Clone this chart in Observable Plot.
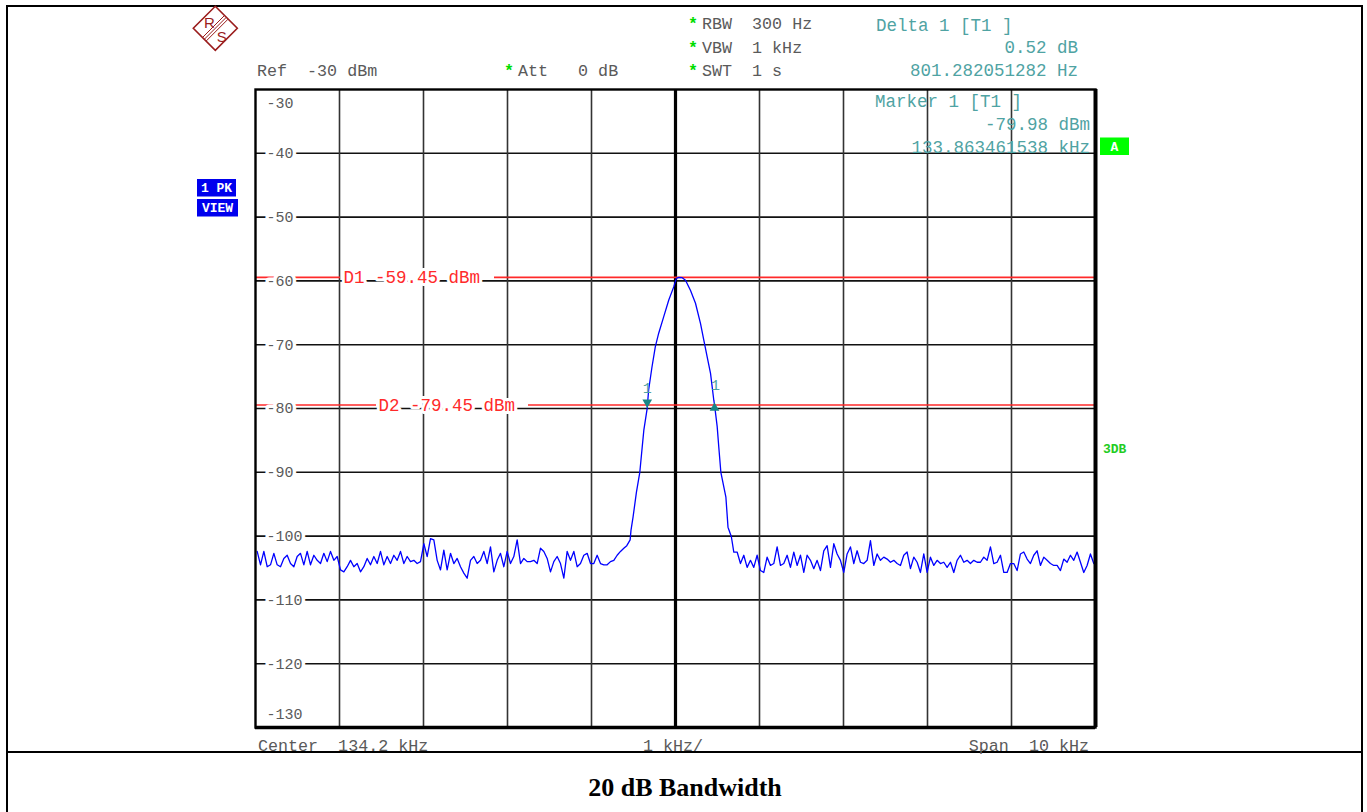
<!DOCTYPE html>
<html><head><meta charset="utf-8">
<script src="https://cdn.jsdelivr.net/npm/d3@7"></script>
<script src="https://cdn.jsdelivr.net/npm/@observablehq/plot@0.6"></script>
<style>
body{margin:0;background:#fff;}
#wrap{position:relative;width:1367px;height:812px;overflow:hidden;background:#fff;}
#wrap > svg{position:absolute;left:0;top:0;}
#wrap text{white-space:pre;}
</style></head><body><div id="wrap"></div>
<script>
// ---- data ----
const centerKHz = 134.2;
const spanKHz = 10;
const refLevel = -30;
const yGridValues = [-40, -50, -60, -70, -80, -90, -100, -110, -120];
const yLabelValues = [-30, -40, -50, -60, -70, -80, -90, -100, -110, -120, -130];
const xGridValues = [130.2, 131.2, 132.2, 133.2, 134.2, 135.2, 136.2, 137.2, 138.2];

// noise floor left of the carrier (sample spacing in kHz)
const sampleStepKHz = 0.03968;
const leftNoiseStartKHz = 129.22;
const leftNoise = [
-102.4,-104.5,-102.4,-104.8,-104.5,-102.7,-104.5,-104.8,-103.5,-103.0,
-104.3,-104.8,-103.2,-102.7,-104.5,-102.4,-104.5,-103.0,-103.8,-104.3,
-102.7,-104.0,-102.4,-103.8,-103.2,-105.3,-105.6,-104.8,-103.8,-104.8,
-104.3,-105.6,-104.8,-103.5,-104.5,-103.2,-104.3,-102.4,-104.5,-103.2,
-104.3,-103.0,-103.8,-102.4,-104.3,-103.2,-104.0,-103.8,-104.3,-104.0,
-101.2,-103.2,-100.4,-100.6,-103.8,-105.3,-102.2,-105.3,-102.7,-104.3,
-103.5,-104.8,-105.8,-106.6,-103.8,-103.2,-104.3,-103.8,-102.4,-104.3,
-101.7,-105.6,-103.8,-102.7,-104.8,-102.4,-104.3,-103.2,-100.6,-104.3,
-103.5,-104.0,-104.0,-103.8,-104.3,-101.9,-102.4,-103.5,-105.6,-104.0,
-103.2,-104.3,-106.6,-102.4,-103.8,-102.4,-104.8,-104.3,-103.0,-102.7,
-104.3,-104.3,-103.0,-104.3,-104.5,-104.5,-104.0,-103.8,-103.0,-102.4,
-101.9
];
// carrier region
const peakFreqs = [133.62,133.66,133.67,133.695,133.735,133.775,133.804,133.823,133.863,133.88,
  133.92,133.96,134.00,134.06,134.12,134.18,134.21,134.24,134.28,134.319,
  134.379,134.438,134.498,134.537,134.577,134.617,134.656,134.665,134.696,134.715,
  134.74,134.8,134.825,134.865];
const peakLevels = [-101.5,-100.6,-99.1,-97.0,-93.1,-90.0,-86.0,-83.4,-79.98,-77.1,
  -73.5,-70.3,-68.2,-65.6,-63.0,-60.9,-59.6,-59.45,-59.5,-59.9,
  -61.5,-63.5,-66.7,-69.3,-71.9,-74.5,-78.7,-79.46,-82.8,-86.0,
  -90.0,-93.9,-98.6,-100.1];
// noise floor right of the carrier
const rightNoiseStartKHz = 134.894;
const rightNoise = [
-102.5,-102.5,-104.3,-103.0,-104.9,-103.8,-104.9,-103.0,-105.4,-105.7,
-103.3,-104.6,-104.3,-101.7,-104.6,-104.3,-103.0,-104.9,-102.5,-104.6,
-103.0,-105.7,-103.0,-103.8,-105.1,-103.8,-105.4,-102.3,-101.5,-104.9,
-101.2,-102.8,-103.8,-105.7,-102.8,-101.7,-104.3,-102.3,-104.1,-104.3,
-103.8,-100.7,-104.6,-102.8,-103.8,-103.3,-103.6,-104.1,-103.8,-104.3,
-104.6,-103.0,-102.5,-105.1,-103.3,-104.1,-105.7,-102.8,-105.7,-103.3,
-104.6,-103.8,-104.3,-104.1,-104.9,-104.1,-105.7,-103.8,-103.0,-104.1,
-103.8,-104.3,-103.8,-104.1,-104.1,-103.3,-103.8,-101.7,-104.3,-104.1,
-103.0,-105.7,-105.7,-104.3,-104.3,-105.4,-102.8,-102.5,-103.6,-104.3,
-103.0,-102.3,-104.6,-103.3,-103.8,-104.3,-104.6,-104.6,-105.4,-103.6,
-104.1,-103.0,-103.8,-102.5,-104.1,-105.7,-104.6,-102.8,-104.3
];
const displayLines = [{name: "D1", level: -59.45}, {name: "D2", level: -79.45}];
const marker1 = {freq: 133.863461538, level: -79.98};
const delta1 = {dFreqHz: 801.282051282, dLevel: 0.52};

// ---- layout ----
const W = 1367, H = 812, mL = 255, mR = 272, mT = 89, mB = 85;
const plotW = W - mL - mR;
const xMin = centerKHz - spanKHz / 2, xMax = centerKHz + spanKHz / 2;
const yMin = refLevel - 100, yMax = refLevel;
const pxToKHz = px => xMin + px * spanKHz / plotW;
// label placement (px from the left edge of the grid) and the gap each label cuts in its line
const dLabelLayout = {D1: {dx: 88, gap: [85, 239]}, D2: {dx: 123, gap: [121, 273]}};
const dSegments = [];
displayLines.forEach(d => {
  const g = dLabelLayout[d.name].gap;
  dSegments.push({level: d.level, a: xMin, b: pxToKHz(g[0])});
  dSegments.push({level: d.level, a: pxToKHz(g[1]), b: xMax});
});

// ---- build trace ----
const trace = [];
leftNoise.forEach((v, i) => trace.push({f: leftNoiseStartKHz + i * sampleStepKHz, v}));
peakFreqs.forEach((f, i) => trace.push({f, v: peakLevels[i]}));
rightNoise.forEach((v, i) => trace.push({f: rightNoiseStartKHz + i * sampleStepKHz, v}));

const fmt = v => String(v);
const grey = "#5a5a5a", teal = "#4fa3a3", red = "#ff2a2a", mkTeal = "#1a8585";
const deltaPoint = {freq: marker1.freq + delta1.dFreqHz / 1000, level: marker1.level + delta1.dLevel};
const dText = d => `${d.name} ${d.level.toFixed(2)} dBm`;

const plot = Plot.plot({
  width: W, height: H,
  marginLeft: mL, marginRight: mR, marginTop: mT, marginBottom: mB,
  x: {domain: [xMin, xMax], axis: null},
  y: {domain: [yMin, yMax], axis: null},
  style: {fontFamily: "Liberation Mono, monospace", background: "transparent", overflow: "visible"},
  marks: [
    Plot.ruleY(yGridValues, {stroke: "#111", strokeWidth: 1.6}),
    Plot.ruleX(xGridValues.filter(d => d !== centerKHz), {stroke: "#333", strokeWidth: 1.6}),
    Plot.ruleX([centerKHz], {stroke: "#000", strokeWidth: 3.2}),
    Plot.ruleY(dSegments, {y: "level", x1: "a", x2: "b", stroke: red, strokeWidth: 1.6}),
    ...displayLines.map(d => Plot.text([d], {y: "level", text: dText,
      frameAnchor: "left", dx: dLabelLayout[d.name].dx, textAnchor: "start", fill: red, fontSize: 17.5,
      stroke: "white", strokeWidth: 6, paintOrder: "stroke"})),
    Plot.text(yLabelValues.filter(d => d !== yMax && d !== yMin), {y: d => d, text: fmt,
      frameAnchor: "left", dx: 11, textAnchor: "start", fill: grey, fontSize: 15,
      stroke: "white", strokeWidth: 7, paintOrder: "stroke"}),
    Plot.text([yMax], {y: d => d, text: fmt, frameAnchor: "left", dx: 11, dy: 14, textAnchor: "start", fill: grey, fontSize: 15}),
    Plot.text([yMin], {y: d => d, text: fmt, frameAnchor: "left", dx: 11, dy: -13, textAnchor: "start", fill: grey, fontSize: 15}),
    Plot.line(trace, {x: "f", y: "v", stroke: "#0000ff", strokeWidth: 1.3}),
    Plot.dot([marker1], {x: "freq", y: "level", symbol: "triangle", rotate: 180, r: 3.6, fill: mkTeal, dy: -6}),
    Plot.dot([deltaPoint], {x: "freq", y: "level", symbol: "triangle", r: 3.6, fill: mkTeal, dy: 3}),
    Plot.text([marker1], {x: "freq", y: "level", text: () => "1", dy: -20, fill: teal, fontSize: 15}),
    Plot.text([deltaPoint], {x: "freq", y: "level", text: () => "1", dy: -20, dx: 1, fill: teal, fontSize: 15}),
    Plot.frame({stroke: "#000", strokeWidth: 2.4}),
    Plot.ruleX([xMax], {stroke: "#000", strokeWidth: 4}),
    Plot.ruleY([yMin], {stroke: "#000", strokeWidth: 3.4})
  ]
});
const wrap = document.getElementById("wrap");
wrap.appendChild(plot);

// ---- instrument annotation overlay ----
const ov = d3.select(wrap).append("svg").attr("width", W).attr("height", H)
  .style("font-family", "Liberation Mono, monospace");
// page border
ov.append("line").attr("x1", 6).attr("x2", 1363).attr("y1", 6).attr("y2", 6).attr("stroke", "#000").attr("stroke-width", 2);
ov.append("line").attr("x1", 7).attr("x2", 7).attr("y1", 5).attr("y2", 812).attr("stroke", "#000").attr("stroke-width", 2);
ov.append("line").attr("x1", 1362).attr("x2", 1362).attr("y1", 5).attr("y2", 812).attr("stroke", "#000").attr("stroke-width", 2);
ov.append("line").attr("x1", 6).attr("x2", 1363).attr("y1", 752).attr("y2", 752).attr("stroke", "#000").attr("stroke-width", 2);

const greyTexts = [
  {t: `Ref  ${refLevel} dBm`, x: 257, y: 76},
  {t: "Att   0 dB", x: 518, y: 76},
  {t: "RBW  300 Hz", x: 702, y: 29},
  {t: "VBW  1 kHz", x: 702, y: 53},
  {t: "SWT  1 s", x: 702, y: 76},
  {t: `Center  ${centerKHz} kHz`, x: 258, y: 751},
  {t: `${spanKHz / 10} kHz/`, x: 643, y: 751},
  {t: `Span  ${spanKHz} kHz`, x: 1089, y: 751, a: "end"}
];
ov.selectAll(null).data(greyTexts).join("text").attr("x", d => d.x).attr("y", d => d.y)
  .attr("xml:space", "preserve")
  .attr("text-anchor", d => d.a || "start").attr("fill", grey).attr("font-size", 16.7).text(d => d.t);
const stars = [{x: 693, y: 29}, {x: 693, y: 53}, {x: 693, y: 76}, {x: 509, y: 76}];
ov.selectAll(null).data(stars).join("text").attr("x", d => d.x).attr("y", d => d.y)
  .attr("text-anchor", "middle").attr("fill", "#00dd00").attr("font-size", 16.7).attr("font-weight", "bold").text("*");
const tealTexts = [
  {t: "Delta 1 [T1 ]", x: 876, y: 30.5},
  {t: `${delta1.dLevel.toFixed(2)} dB`, x: 1078, y: 53.3, a: "end"},
  {t: `${delta1.dFreqHz} Hz`, x: 1078, y: 76, a: "end"},
  {t: "Marker 1 [T1 ]", x: 875, y: 107},
  {t: `${marker1.level.toFixed(2)} dBm`, x: 1090, y: 130, a: "end"},
  {t: `${marker1.freq} kHz`, x: 1090, y: 152.5, a: "end"}
];
ov.selectAll(null).data(tealTexts).join("text").attr("x", d => d.x).attr("y", d => d.y)
  .attr("xml:space", "preserve")
  .attr("text-anchor", d => d.a || "start").attr("fill", teal).attr("font-size", 17.5).text(d => d.t);

// status boxes
const boxes = [
  {t: "1 PK", x: 197, y: 179, w: 39, h: 17.5, fill: "#0000ee"},
  {t: "VIEW", x: 197, y: 199, w: 41, h: 17.5, fill: "#0000ee"},
  {t: "A", x: 1100, y: 137.5, w: 29, h: 17.5, fill: "#00ff00"}
];
const bg = ov.selectAll(null).data(boxes).join("g");
bg.append("rect").attr("x", d => d.x).attr("y", d => d.y).attr("width", d => d.w).attr("height", d => d.h).attr("fill", d => d.fill);
bg.append("text").attr("x", d => d.x + d.w / 2).attr("y", d => d.y + d.h / 2 + 4.5).attr("text-anchor", "middle")
  .attr("fill", "#fff").attr("font-size", 13).attr("font-weight", "bold").text(d => d.t);
ov.append("text").attr("x", 1103).attr("y", 452.5).attr("fill", "#22cc22").attr("font-size", 13).attr("font-weight", "bold").text("3DB");

// R&S logo
const lg = ov.append("g").attr("transform", "translate(215.3,28.3)");
lg.append("path").attr("d", "M0,-22L22,0L0,22L-22,0Z").attr("fill", "#fff").attr("stroke", "#9a1c1c").attr("stroke-width", 1.6);
[-1.8, 0, 1.8].forEach(o => lg.append("line").attr("x1", 11 + o).attr("y1", -11 + o).attr("x2", -11 + o).attr("y2", 11 + o)
  .attr("stroke", "#9a1c1c").attr("stroke-width", 1));
lg.append("text").attr("x", -6).attr("y", 0).attr("text-anchor", "middle").attr("fill", "#9a1c1c")
  .attr("font-family", "Liberation Sans, sans-serif").attr("font-size", 15).text("R");
lg.append("text").attr("x", 6.5).attr("y", 14).attr("text-anchor", "middle").attr("fill", "#9a1c1c")
  .attr("font-family", "Liberation Sans, sans-serif").attr("font-size", 15).text("S");

// caption
ov.append("text").attr("x", 685).attr("y", 796).attr("text-anchor", "middle").attr("fill", "#000")
  .attr("font-family", "Liberation Serif, Times New Roman, serif").attr("font-size", 26).attr("font-weight", "bold")
  .text("20 dB Bandwidth");
</script></body></html>
